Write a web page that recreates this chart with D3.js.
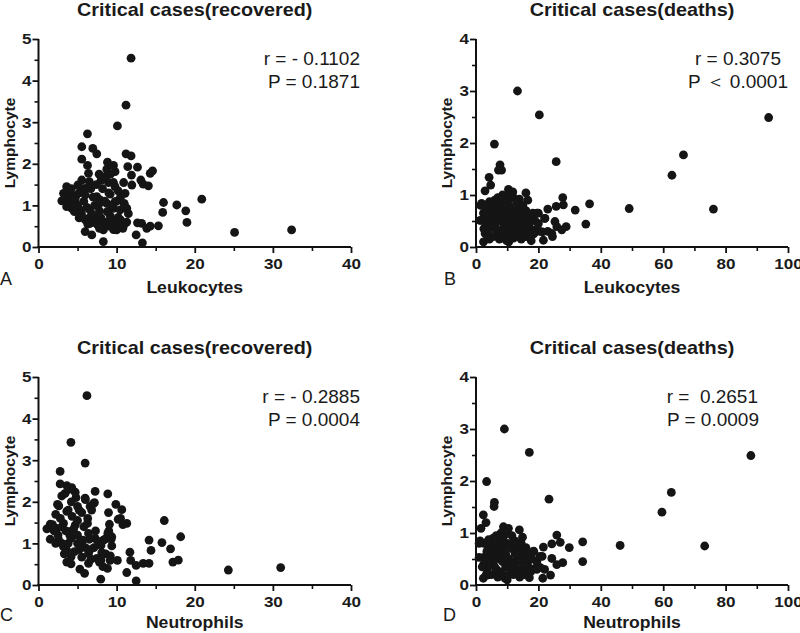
<!DOCTYPE html>
<html><head><meta charset="utf-8">
<script src="https://cdn.jsdelivr.net/npm/d3@7"></script>
<style>
html,body{margin:0;padding:0;background:#fff;}
svg{display:block;font-family:"Liberation Sans",Arial,sans-serif;}
</style></head>
<body><svg id="c" width="800" height="633"></svg>
<script>
// ---- data: [x, lymphocyte] pairs ----
const recoveredLeukocytes = [
[11.85,4.54],[11.2,3.41],[10.1,2.91],[6.27,2.72],[5.54,2.41],[6.95,2.37],[7.46,2.24],[5.54,2.11],[11.2,2.24],[11.85,2.19],
[6.27,1.96],[8.83,2.04],[9.6,1.96],[11.43,1.93],[12.67,1.92],[6.4,1.77],[7.76,1.75],[8.74,1.87],[9.8,1.81],[11.9,1.73],
[14.3,1.77],[14.6,1.83],[5.54,1.61],[6.5,1.57],[8.95,1.55],[10.9,1.55],[11.95,1.49],[13.1,1.61],[13.4,1.51],[14.07,1.47],
[3.6,1.45],[4.06,1.33],[5.03,1.49],[5.97,1.41],[9.8,1.45],[3.2,1.29],[4.8,1.23],[7.46,1.21],[9.17,1.27],[11.08,1.29],
[2.98,1.11],[3.84,1.07],[4.7,1.13],[7.9,1.13],[8.74,1.05],[9.8,1.09],[10.96,1.05],[16.0,1.07],[17.7,1.01],[20.9,1.15],
[3.6,0.97],[4.26,0.93],[5.33,0.89],[6.5,0.91],[7.8,0.87],[9.6,0.93],[10.45,0.89],[11.3,0.93],[15.9,0.83],[18.85,0.87],
[5.54,0.73],[6.4,0.69],[7.46,0.73],[9.17,0.75],[10.2,0.71],[6.6,0.57],[7.9,0.61],[9.17,0.57],[10.66,0.57],[12.67,0.58],
[13.2,0.57],[19.0,0.59],[13.86,0.45],[14.3,0.5],[15.35,0.51],[9.6,0.42],[5.97,0.37],[6.82,0.29],[12.5,0.29],[8.3,0.13],
[13.3,0.1],[25.1,0.35],[32.4,0.41],[8.3,0.41],[10.0,0.41],
[4.5,1.2],[5,1.0],[5.2,1.3],[5.8,1.1],[6.2,0.95],[6.8,0.8],[7.2,1.0],[5.5,0.8],[6,0.65],[7,0.6],
[7.5,0.55],[8,0.7],[8.5,0.6],[9,0.5],[9.5,0.6],[10,0.55],[10.5,0.65],[11,0.55],[8.8,0.85],[9.3,1.0],
[10,1.1],[10.5,1.2],[9,1.3],[8.2,1.4],[9.6,1.55],[10.2,1.35],[11,1.0],[11.5,0.8],[8,1.6],[8.6,1.7],
[9.2,1.75],[7.4,1.5],[6.7,1.4],[4,1.0],[3.5,1.2],[4.6,0.85],[5.2,0.7],[6.3,0.55],[7.8,0.45],[9.8,0.45],
[10.8,0.45],[11.3,0.6],[7,1.2],[7.8,1.05],[8.5,1.1],[6,1.25],[5.5,1.4],[4.2,1.4],[3.8,1.35]
];
const deathsLeukocytes = [
[13.3,3.0],[20.3,2.54],[93.8,2.49],[5.9,1.98],[66.5,1.77],[62.8,1.38],[25.7,1.64],[7.7,1.58],[8.2,1.48],[7.2,1.48],
[4.2,1.34],[4.7,1.19],[2.9,1.08],[10.4,1.11],[11.8,1.06],[16.0,1.04],[27.8,0.95],[16.6,0.9],[1.8,0.84],[4.3,0.87],
[7.7,0.87],[10.9,0.94],[13.9,0.92],[36.4,0.83],[28.0,0.81],[25.7,0.78],[23.0,0.73],[31.8,0.71],[49.1,0.74],[76.1,0.73],
[2.4,0.65],[6.6,0.65],[11.4,0.62],[18.2,0.65],[20.0,0.65],[1.3,0.51],[3.4,0.52],[8.2,0.49],[12.5,0.52],[16.6,0.52],
[22.1,0.55],[25.3,0.49],[35.2,0.44],[5.0,0.39],[8.8,0.36],[14.1,0.39],[18.9,0.33],[25.9,0.39],[28.9,0.39],[27.5,0.33],
[21.3,0.29],[24.3,0.26],[2.9,0.26],[6.6,0.23],[10.9,0.26],[15.4,0.23],[24.5,0.2],[2.4,0.1],[4.3,0.15],[9.8,0.12],
[17.7,0.12],[21.6,0.13],[12.0,0.17],
[3,0.4],[4,0.3],[5,0.5],[6,0.4],[7,0.3],[8,0.5],[9,0.45],[10,0.35],[11,0.5],[12,0.3],
[13,0.45],[14,0.55],[15,0.3],[16,0.45],[17,0.4],[18,0.55],[19,0.3],[20,0.45],[4.5,0.7],[6,0.75],
[7,0.6],[8,0.8],[9,0.7],[10,0.6],[11,0.75],[12,0.7],[13,0.6],[14,0.75],[15,0.65],[16,0.7],
[17,0.6],[19,0.5],[5.5,0.2],[7.5,0.15],[9,0.2],[10.5,0.1],[12.5,0.2],[14.5,0.15],[16,0.2],[18.5,0.25],
[3.5,0.55],[6.5,0.55],[8.5,0.25],[11.5,0.35],[13.5,0.25],[9.5,0.95],[10,1.0],[8.5,1.0],[7,0.95],[12,0.95],
[13,0.85],[6,0.9],[4,0.65],[2.5,0.35],[3,0.8],[5,0.85],[1.5,0.8],[20.5,0.3],[22,0.55],[23,0.3],
[5.5,0.6],[7.5,0.7],[9.5,0.55],[10.5,0.8],[12.5,0.4],[14.5,0.45],[15.5,0.55],[17.5,0.5],[6.5,0.35],[8,0.6],
[9.2,0.85],[11,0.2],[13.2,0.7],[15,0.8],[4.8,0.45],[7.8,0.25],[10.2,0.45],[16.8,0.3],[19.5,0.65],[3.8,0.2]
];
const recoveredNeutrophils = [
[6.2,4.55],[4.15,3.43],[5.97,2.93],[2.77,2.73],[2.77,2.43],[3.62,2.39],[4.26,2.34],[4.7,2.23],[7.25,2.25],[8.87,2.19],
[5.97,2.09],[9.9,1.94],[2.43,1.94],[2.98,2.14],[5.0,1.89],[6.6,1.89],[7.16,1.98],[10.66,1.81],[3.62,1.77],[5.54,1.74],
[8.96,1.74],[10.2,1.58],[11.3,1.48],[16.1,1.55],[9.08,1.46],[1.5,1.46],[2.34,1.36],[3.2,1.48],[4.7,1.44],[6.27,1.48],
[1.07,1.35],[3.94,1.28],[6.4,1.24],[8.87,1.24],[1.5,1.1],[2.56,1.1],[4.17,1.12],[5.67,1.08],[7.25,1.12],[8.3,1.08],
[9.38,1.16],[18.2,1.16],[14.15,1.08],[15.8,1.02],[3.2,0.92],[5.0,1.0],[7.1,0.9],[9.38,0.94],[14.4,0.83],[16.9,0.87],
[3.6,0.84],[6.4,0.76],[8.1,0.78],[11.7,0.79],[4.17,0.68],[5.54,0.67],[7.46,0.64],[6.7,0.62],[3.62,0.55],[8.0,0.6],
[9.17,0.59],[10.1,0.59],[11.8,0.59],[17.2,0.55],[17.9,0.6],[13.4,0.52],[14.15,0.52],[4.17,0.51],[6.4,0.52],[8.25,0.44],
[12.5,0.47],[5.3,0.38],[5.9,0.28],[11.3,0.3],[24.3,0.36],[31.0,0.42],[7.97,0.14],[12.5,0.1],[8.83,0.4],
[2,1.3],[2.5,1.2],[3,1.4],[3.5,1.3],[4,1.2],[2.2,1.0],[3,1.0],[3.8,1.0],[4.5,1.35],[5,1.55],
[4.3,1.65],[3.8,1.8],[4.2,2.0],[3.4,2.2],[3.9,2.3],[5,1.2],[5.5,1.0],[6,0.9],[6.5,1.1],[5.8,1.4],
[6.3,1.6],[6.8,1.8],[7,1.95],[7.3,1.3],[7.6,1.05],[8,0.95],[8.5,1.1],[9,1.3],[9.3,1.1],[8.6,0.75],
[6.6,0.85],[5.2,0.85],[4.6,0.8],[3.3,0.75],[2.8,1.6],[2.2,1.7],[2.6,1.9],[5.2,1.8],[4.8,2.1],[6,2.05],
[1.8,1.45],[7.8,0.55],[9.2,0.7],[10.5,1.6],[10.8,1.45]
];
const deathsNeutrophils = [
[9.1,3.0],[17.1,2.55],[88.1,2.49],[3.4,1.99],[62.6,1.78],[59.6,1.4],[23.4,1.65],[5.9,1.59],[5.8,1.51],[2.35,1.35],
[3.2,1.2],[1.6,1.09],[8.8,1.12],[10.4,1.09],[13.9,1.06],[25.9,0.96],[14.9,0.92],[46.2,0.76],[73.3,0.75],[34.2,0.83],
[27.0,0.82],[24.3,0.79],[29.9,0.72],[21.6,0.73],[1.3,0.85],[4.0,0.87],[7.2,0.93],[12.0,0.85],[16.0,0.72],[18.4,0.64],
[1.0,0.53],[34.2,0.45],[24.3,0.51],[21.2,0.55],[27.8,0.43],[25.9,0.39],[23.9,0.19],[21.4,0.13],[17.1,0.14],[2.35,0.13],
[3.6,0.19],[9.3,0.13],[13.0,0.3],[18.9,0.32],[20.5,0.34],
[2.5,0.4],[3.5,0.3],[4.5,0.5],[5.5,0.4],[6.5,0.3],[7.5,0.5],[8.5,0.45],[9.5,0.35],[10.5,0.5],[11.5,0.3],
[12.5,0.45],[13.5,0.55],[14.5,0.3],[15.5,0.45],[16.5,0.4],[17.5,0.55],[18,0.3],[19.5,0.45],[4,0.7],[5.5,0.75],
[6.5,0.6],[7.5,0.8],[8.5,0.7],[9.5,0.6],[10.5,0.75],[11.5,0.7],[12.5,0.6],[13.5,0.75],[14.5,0.65],[15.5,0.7],
[16.5,0.6],[18,0.5],[5,0.2],[7,0.15],[8.5,0.2],[10,0.1],[12,0.2],[14,0.15],[15.5,0.2],[17.5,0.25],
[3,0.55],[6,0.55],[8,0.25],[11,0.35],[13,0.25],[9,0.95],[9.5,1.0],[8,1.0],[6.5,0.95],[11.5,0.95],
[12.5,0.85],[5.5,0.9],[3.5,0.65],[2,0.35],[2.5,0.8],[4.5,0.85],[1,0.8],[19.5,0.3],[20.5,0.55],[22,0.3],
[5,0.6],[7,0.7],[9,0.55],[10,0.8],[12,0.4],[14,0.45],[15,0.55],[16.5,0.5],[6,0.35],[7.5,0.6],
[8.7,0.85],[10.5,0.2],[12.7,0.7],[14.5,0.8],[4.3,0.45],[7.3,0.25],[9.7,0.45],[16,0.3],[18.5,0.65],[3.3,0.2]
];
const titles = ["Critical cases(recovered)","Critical cases(deaths)","Critical cases(recovered)","Critical cases(deaths)"];
const xLabels = ["Leukocytes","Leukocytes","Neutrophils","Neutrophils"];
const yLabel = "Lymphocyte";
const panelLetters = ["A","B","C","D"];
const statR = ["r = - 0.1102","r = 0.3075","r = - 0.2885","r =  0.2651"];
const statP = ["P = 0.1871","P \uFF1C 0.0001","P = 0.0004","P = 0.0009"];
const xMax = [40,100,40,100];
const yMax = [5,4,5,4];
const xMajorStep = [10,20,10,20];

const datasets = [recoveredLeukocytes, deathsLeukocytes, recoveredNeutrophils, deathsNeutrophils];
// layout (pixels)
const boxes = [
  {l:38.5,r:351,t:39,b:247},
  {l:476,r:788,t:39,b:247},
  {l:38.5,r:351,t:377,b:585},
  {l:476,r:788,t:377,b:585}
];
const svg = d3.select("#c");
const FONT = '"Liberation Sans",Arial,sans-serif';
const SX = 1.1; // horizontal stretch of the bold lettering

datasets.forEach((data,i)=>{
  const bx = boxes[i];
  const x = d3.scaleLinear().domain([0,xMax[i]]).range([bx.l,bx.r]);
  const y = d3.scaleLinear().domain([0,yMax[i]]).range([bx.b,bx.t]);
  const g = svg.append("g");
  const cx = (bx.l+bx.r)/2;

  // minor ticks
  const xMinor = d3.range(xMajorStep[i]/2, xMax[i], xMajorStep[i]);
  const yMinor = d3.range(0.5, yMax[i], 1);
  g.append("g").attr("transform",`translate(0,${bx.b})`)
    .call(d3.axisBottom(x).tickValues(xMinor).tickSize(4).tickFormat(""))
    .call(s=>s.select(".domain").remove())
    .selectAll("line").attr("stroke","#111").attr("stroke-width",1.6);
  g.append("g").attr("transform",`translate(${bx.l},0)`)
    .call(d3.axisLeft(y).tickValues(yMinor).tickSize(4).tickFormat(""))
    .call(s=>s.select(".domain").remove())
    .selectAll("line").attr("stroke","#111").attr("stroke-width",1.6);

  // major axes
  const xa = g.append("g").attr("transform",`translate(0,${bx.b})`)
    .call(d3.axisBottom(x).tickValues(d3.range(0,xMax[i]+0.001,xMajorStep[i])).tickSize(6).tickSizeOuter(0).tickPadding(5).tickFormat(d3.format("d")));
  const ya = g.append("g").attr("transform",`translate(${bx.l},0)`)
    .call(d3.axisLeft(y).tickValues(d3.range(0,yMax[i]+0.001,1)).tickSize(6).tickSizeOuter(0).tickPadding(1).tickFormat(d3.format("d")));
  [xa,ya].forEach(a=>{
    a.select(".domain").attr("stroke","#111").attr("stroke-width",2);
    a.selectAll(".tick line").attr("stroke","#111").attr("stroke-width",1.8);
    a.selectAll(".tick text").attr("font-family",FONT).attr("font-size",15.5).attr("font-weight","bold").attr("fill","#1a1a1a");
  });
  xa.selectAll(".tick text").attr("transform",`scale(${SX},1)`);
  ya.selectAll(".tick text").attr("transform",`translate(-7,0) scale(${SX},1) translate(7,0)`);
  ya.select(".domain").attr("d",`M0,${bx.b+1}V${bx.t}`);
  xa.select(".domain").attr("d",`M${bx.l-1},0H${bx.r}`);

  // points
  g.append("g").selectAll("circle").data(data).join("circle")
    .attr("cx",d=>x(d[0])).attr("cy",d=>y(d[1])).attr("r",4.4).attr("fill","#151515");

  // title
  g.append("text").attr("transform",`translate(${cx},${bx.t-23}) scale(${SX},1)`).attr("text-anchor","middle")
    .attr("font-family",FONT).attr("font-size",18).attr("font-weight","bold").attr("fill","#1a1a1a").text(titles[i]);
  // x label
  const labY = i < 2 ? bx.b+46 : bx.b+43;
  g.append("text").attr("transform",`translate(${cx},${labY}) scale(${SX},1)`).attr("text-anchor","middle")
    .attr("font-family",FONT).attr("font-size",16).attr("font-weight","bold").attr("fill","#1a1a1a").text(xLabels[i]);
  // y label
  g.append("text").attr("transform",`translate(${bx.l-24},${(bx.t+bx.b)/2}) rotate(-90)`).attr("text-anchor","middle")
    .attr("font-family",FONT).attr("font-size",15.5).attr("font-weight","bold").attr("fill","#1a1a1a").text(yLabel);
  // panel letter
  g.append("text").attr("x",[0,444,0,443][i]).attr("y",i < 2 ? bx.b+38 : bx.b+36)
    .attr("font-family",FONT).attr("font-size",18).attr("fill","#1a1a1a").text(panelLetters[i]);
  // stats
  const sx = [360,781,360,758][i];
  const sx2 = [360,788,360,759][i];
  g.append("text").attr("x",sx).attr("y",bx.t+26).attr("text-anchor","end").style("white-space","pre")
    .attr("font-family",FONT).attr("font-size",19).attr("fill","#1a1a1a").text(statR[i]);
  g.append("text").attr("x",sx2).attr("y",bx.t+49).attr("text-anchor","end").style("white-space","pre")
    .attr("font-family",FONT).attr("font-size",19).attr("fill","#1a1a1a").text(statP[i]);
});
</script></body></html>
